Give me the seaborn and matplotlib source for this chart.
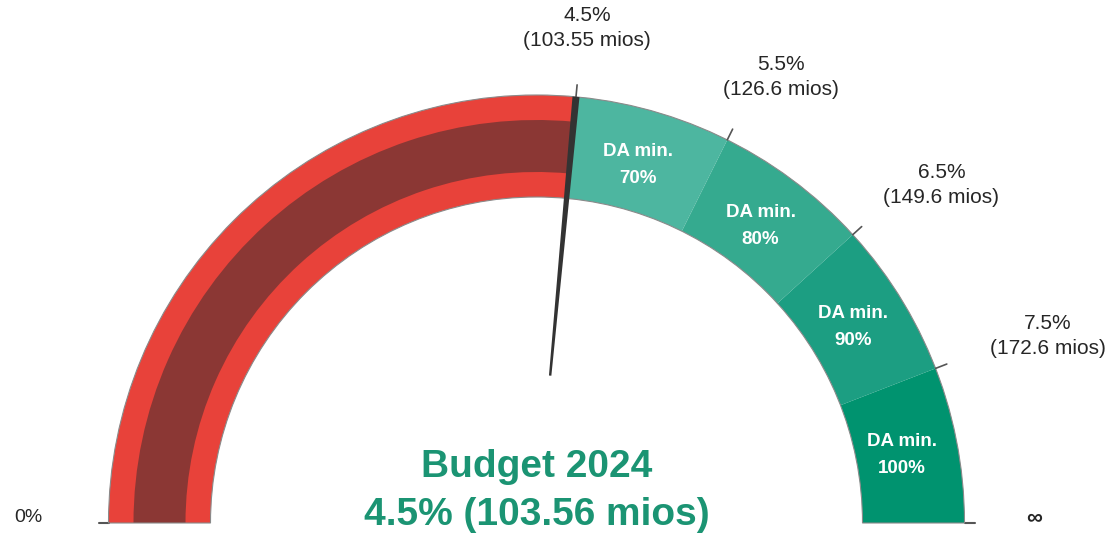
import numpy as np
import seaborn as sns
import matplotlib.pyplot as plt
from matplotlib.patches import Wedge, Polygon

# gauge data
bounds = [0, 4.5, 5.5, 6.5, 7.5, 8.5]          # 8.5 stands for "infinity"
seg_labels = ["", "DA min.\n70%", "DA min.\n80%", "DA min.\n90%", "DA min.\n100%"]
seg_colors = ["#E8423A", "#4DB6A0", "#35AA8F", "#1C9E82", "#00936F"]
tick_vals = [4.5, 5.5, 6.5, 7.5]
tick_labels = ["4.5%\n(103.55 mios)", "5.5%\n(126.6 mios)", "6.5%\n(149.6 mios)", "7.5%\n(172.6 mios)"]
end_labels = ["0%", "∞"]
needle_val = 4.5
title = "Budget 2024\n4.5% (103.56 mios)"

sns.set_theme(style="white")
plt.rcParams['font.family'] = ['Liberation Sans', 'DejaVu Sans']

fig = plt.figure(figsize=(11.11, 5.33), dpi=100)
ax = fig.add_axes([0, 0, 1, 1])
ax.set_xlim(0, 1111)
ax.set_ylim(0, 533)
ax.axis("off")

cx, cy = 536.5, 10
r_out, r_in = 428, 326
vmax = bounds[-1]


def ang(v):
    return 180.0 * (1 - v / vmax)


def pt(v, r):
    a = np.radians(ang(v))
    return cx + r * np.cos(a), cy + r * np.sin(a)


# segments
for lo, hi, col, lab in zip(bounds[:-1], bounds[1:], seg_colors, seg_labels):
    ax.add_patch(Wedge((cx, cy), r_out, ang(hi), ang(lo), width=r_out - r_in,
                       facecolor=col, edgecolor="none", zorder=2))
    if lab:
        x, y = pt((lo + hi) / 2, 372)
        ax.text(x, y, lab, ha="center", va="center", color="white",
                fontsize=13.5, fontweight="bold", linespacing=1.75, zorder=5)

# inner dark band of red segment
ax.add_patch(Wedge((cx, cy), 403, ang(bounds[1]), ang(bounds[0]), width=52,
                   facecolor="#8B3734", edgecolor="none", zorder=3))

# thin outline
ax.add_patch(Wedge((cx, cy), r_out, 0, 180, width=r_out - r_in,
                   facecolor="none", edgecolor="#8a8a8a", lw=0.8, zorder=4))

# ticks + labels
for v, lab in zip(tick_vals, tick_labels):
    x0, y0 = pt(v, r_out)
    x1, y1 = pt(v, r_out + 12)
    ax.plot([x0, x1], [y0, y1], color="#555555", lw=1.2, zorder=4)
    lx, ly = pt(v, r_out + 58)
    lx += 62 * np.cos(np.radians(ang(v)))
    ly += 11
    ax.text(lx, ly, lab, ha="center", va="center", color="#262626",
            fontsize=15, linespacing=1.4, zorder=5)

ax.plot([cx - r_out - 10, cx - r_out], [cy, cy], color="#555555", lw=1.5)
ax.plot([cx + r_out, cx + r_out + 10], [cy, cy], color="#555555", lw=1.5)
ax.text(cx - 508, cy + 5, end_labels[0], ha="center", va="center",
        fontsize=14, color="#262626")
ax.text(cx + 498, cy + 5, end_labels[1], ha="center", va="center",
        fontsize=16, fontweight="bold", color="#262626")

# needle
a = np.radians(ang(needle_val))
u = np.array([np.cos(a), np.sin(a)])
n = np.array([-np.sin(a), np.cos(a)])
c = np.array([cx, cy])
base, tip = c + 148 * u, c + r_out * u
needle = Polygon([base - 1.2 * n, tip - 3.5 * n, tip + 3.5 * n, base + 1.2 * n],
                 closed=True, facecolor="#333333", edgecolor="none", zorder=6)
ax.add_patch(needle)

# centre title
ax.text(cx, cy + 32, title, ha="center", va="center", color="#1B9473",
        fontsize=28, fontweight="bold", linespacing=1.4, zorder=7)

fig.savefig("out.png", dpi=100)
